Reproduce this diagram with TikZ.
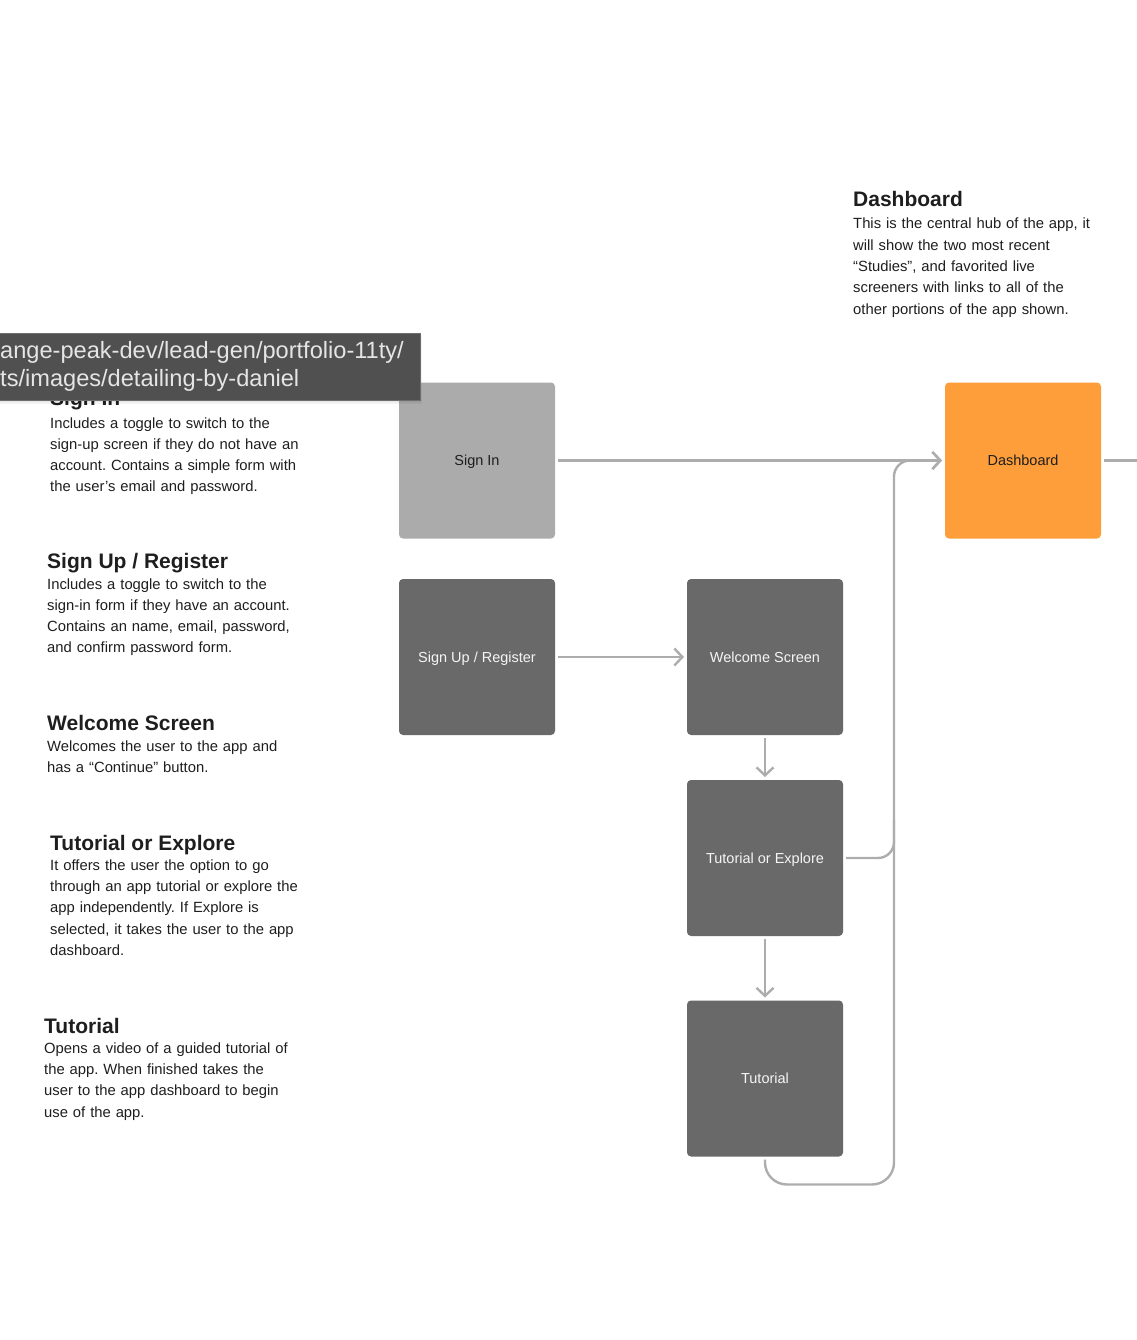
\documentclass[tikz,border=0pt]{standalone}
\usepackage{fontspec}
\setmainfont{Liberation Sans}
\usetikzlibrary{arrows.meta,positioning}
\frenchspacing

\definecolor{boxgray}{HTML}{696969}
\definecolor{boxlight}{HTML}{ABABAB}
\definecolor{boxorange}{HTML}{FE9E3A}
\definecolor{linegray}{HTML}{ADADAD}
\definecolor{inkdark}{HTML}{1E1E1E}
\definecolor{tipgray}{HTML}{505050}
\definecolor{tipedge}{HTML}{6E6E6E}

\tikzset{
  screen/.style={rounded corners=4pt,minimum width=156pt,minimum height=156pt,
    inner sep=0pt,outer sep=3pt,fill=boxgray,text=white!96!black,
    text height=10.5pt,text depth=0pt,
    font=\fontsize{14.5}{17}\selectfont},
  flow/.style={draw=linegray,line width=2.4pt},
  head/.style={anchor=base west,inner sep=0pt,text=inkdark,
    font=\fontsize{21}{24}\selectfont\bfseries},
  blurb/.style={anchor=base west,inner sep=0pt,text width=300pt,align=left,
    text=inkdark,font=\fontsize{14.8}{21.33}\selectfont},
  urlbox/.style={fill=tipgray,draw=tipedge,line width=1pt,minimum width=432pt,
    minimum height=67pt,inner sep=0pt},
  urltext/.style={anchor=base west,inner sep=0pt,text width=460pt,align=left,
    text=white!90!black,font=\fontsize{23.6}{28.5}\selectfont}
}

\begin{document}
\begin{tikzpicture}[x=1pt,y=-1pt,>={Straight Barb[length=8pt,width=17pt]}]
\useasboundingbox (0,0) rectangle (1136,1340);

% notes on the left
\node[head] (signinhd) at (50,405) {Sign In};
\node[blurb] (signintxt) at (50,428) {Includes a toggle to switch to the\\
  sign-up screen if they do not have an\\ account. Contains a simple form with\\
  the user’s email and password.};
\node[head] (signuphd) at (47,568) {Sign Up / Register};
\node[blurb] (signuptxt) at (47,589) {Includes a toggle to switch to the\\
  sign-in form if they have an account.\\ Contains an name, email, password,\\
  and confirm password form.};
\node[head] (welcomehd) at (47,730) {Welcome Screen};
\node[blurb] (welcometxt) at (47,751) {Welcomes the user to the app and\\
  has a “Continue” button.};
\node[head] (torehd) at (50,850) {Tutorial or Explore};
\node[blurb] (toretxt) at (50,870) {It offers the user the option to go\\
  through an app tutorial or explore the\\ app independently. If Explore is\\
  selected, it takes the user to the app\\ dashboard.};
\node[head] (tuthd) at (44,1033) {Tutorial};
\node[blurb] (tuttxt) at (44,1053) {Opens a video of a guided tutorial of\\
  the app. When finished takes the\\ user to the app dashboard to begin\\
  use of the app.};
\node[head] (dashhd) at (853,207) {Dashboard};
\node[blurb] (dashtxt) at (853,229) {This is the central hub of the app, it\\
  will show the two most recent\\ “Studies”, and favorited live\\
  screeners with links to all of the\\ other portions of the app shown.};

% screens
\node[screen,fill=boxlight,text=inkdark] (signin) at (477,460.5) {Sign In};
\node[screen,fill=boxorange,text=inkdark] (dash) at (1023,460.5) {Dashboard};
\node[screen] (signup) at (477,657) {Sign Up / Register};
\node[screen] (welcome) at (765,657) {Welcome Screen};
\node[screen] (tore) at (765,858) {Tutorial or Explore};
\node[screen] (tut) at (765,1078.5) {Tutorial};

\coordinate (rail) at (894,858);
\coordinate (railjoin) at (894,820);
\coordinate (offpage) at (1150,460.5);

% connectors
\draw[flow,->] (signin) -- (dash);
\draw[flow] (dash) -- (offpage);
\draw[flow,->] (signup) -- (welcome);
\draw[flow,->] (welcome) -- (tore);
\draw[flow,->] (tore) -- (tut);
\draw[flow,->,rounded corners=16pt] (tore.east) -- (rail) |- (dash.west);
\draw[flow,rounded corners=22pt] (tut.south) -- ++(0,25) -| (railjoin);

% browser tooltip on top
\fill[black,opacity=0.05] (-12,335) rectangle (422,404);
\fill[black,opacity=0.05] (-12,334) rectangle (421,402);
\node[urlbox] (urlbar) at (204,366.5) {};
\node[urltext] (urlpath) at (0,358) {ange-peak-dev/lead-gen/portfolio-11ty/\\
  ts/images/detailing-by-daniel};
\end{tikzpicture}
\end{document}
